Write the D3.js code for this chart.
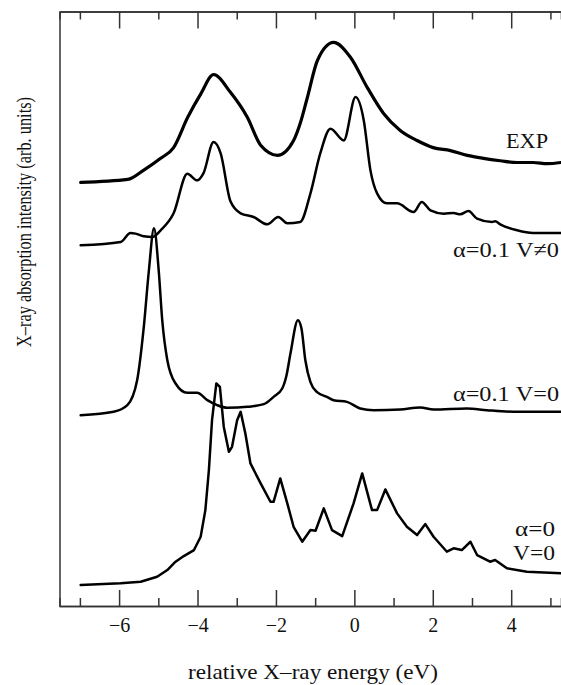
<!DOCTYPE html>
<html><head><meta charset="utf-8">
<script src="https://cdn.jsdelivr.net/npm/d3@7"></script>
<style>
body{margin:0;background:#fff;}
svg text{font-family:"Liberation Serif","Times New Roman",serif;fill:#111;}
</style></head>
<body><svg id="c" width="561" height="685"></svg>
<script>
// ---- data (energy in eV, intensity in arbitrary units, curves offset vertically) ----
const majorTicks = [-6, -4, -2, 0, 2, 4];
const minorTicks = [-7, -5, -3, -1, 1, 3, 5];
const seriesLabels = ["EXP", "α=0.1  V≠0", "α=0.1  V=0", "α=0", "V=0"];

const expE = [-6.98,-5.78,-5.38,-4.94,-4.61,-4.25,-3.92,-3.59,-3.16,-2.73,-2.39,-1.96,-1.55,-1.38,-1.2,-0.94,-0.53,-0.10,0.33,0.74,1.17,1.6,2.01,2.45,2.88,3.29,3.72,4.15,4.56,4.92,5.27];
const expI = [71.26,71.76,73.28,75.3,77.1,82.2,86.1,89.4,86.4,82.2,77.5,75.8,78.3,81.2,85.5,91.8,94.8,92.3,87.2,82.9,80.0,78.3,77.1,76.6,75.8,75.3,74.9,74.6,74.6,74.4,74.6];

const vE = [-6.98,-5.96,-5.71,-5.58,-5.37,-5.15,-4.94,-4.61,-4.26,-4.01,-3.85,-3.59,-3.41,-3.16,-2.90,-2.57,-2.22,-1.94,-1.71,-1.38,-1.12,-0.87,-0.61,-0.27,0.03,0.24,0.41,0.58,0.83,1.09,1.51,1.72,1.94,2.28,2.53,2.70,2.91,3.13,3.51,3.59,3.72,4.15,4.56,5.27];
const vI = [60.67,61.23,62.74,62.64,62.18,62.07,63.19,66.05,72.72,71.60,72.77,78.03,76.13,68.07,66.05,65.43,64.20,65.43,64.37,64.59,69.41,76.13,80.29,78.32,85.60,81.68,73.28,69.41,67.73,67.73,66.27,67.95,66.55,66.00,66.10,65.88,66.44,65.16,64.59,64.71,64.20,63.19,62.74,62.74];

const v0E = [-6.98,-6.14,-5.79,-5.54,-5.37,-5.24,-5.11,-4.99,-4.90,-4.77,-4.56,-4.26,-4.01,-3.75,-3.50,-3.24,-2.73,-2.31,-2.06,-1.84,-1.73,-1.63,-1.44,-1.35,-1.25,-1.12,-0.95,-0.70,-0.53,-0.19,0.15,0.49,1.17,1.68,2.02,2.87,3.38,4.15,5.27];
const v0I = [32.10,32.66,33.78,37.98,46.94,56.47,63.53,56.47,48.07,41.34,37.43,35.85,35.85,34.62,33.78,33.33,33.50,33.95,35.18,36.59,38.82,42.47,48.07,46.72,41.34,37.65,35.97,35.18,34.62,34.34,33.23,32.94,33.06,33.39,33.06,33.23,32.94,32.66,32.66];

const a0E = [-6.98,-5.96,-5.45,-5.03,-4.77,-4.56,-4.35,-4.09,-3.92,-3.80,-3.71,-3.63,-3.52,-3.43,-3.33,-3.20,-3.12,-2.99,-2.90,-2.78,-2.65,-2.39,-2.14,-2.06,-1.89,-1.71,-1.55,-1.33,-1.12,-0.99,-0.78,-0.57,-0.31,-0.02,0.20,0.45,0.58,0.79,1.09,1.34,1.60,1.81,2.02,2.36,2.53,2.74,2.96,3.13,3.46,3.59,3.89,4.40,5.27];
const a0I = [3.53,3.82,4.08,4.92,6.05,7.45,8.40,9.41,11.65,16.13,22.86,31.26,37.43,36.86,30.13,25.93,26.77,31.26,32.66,29.03,23.98,20.62,17.53,17.53,21.46,17.26,13.33,10.81,12.77,12.66,16.42,12.77,11.76,17.26,22.30,16.13,16.13,19.61,15.58,13.33,11.93,13.78,11.65,9.13,9.70,9.41,10.81,8.57,7.45,7.73,6.34,5.76,5.50];

// ---- layout ----
const svg = d3.select("#c");
const L = 59.5, R = 561, T = 11.5, B = 606;
const x = d3.scaleLinear().domain([-7.52, 5.27]).range([L, R]);
const y = d3.scaleLinear().domain([0, 100]).range([B, T]);

svg.append("clipPath").attr("id","clip").append("rect")
  .attr("x", L).attr("y", T).attr("width", R - L).attr("height", B - T);

const zip = (a, b) => a.map((d, i) => [d, b[i]]);
const series = [
  {pts: zip(expE, expI), w: 3.2, curve: d3.curveMonotoneX},
  {pts: zip(vE, vI), w: 2.5, curve: d3.curveMonotoneX},
  {pts: zip(v0E, v0I), w: 2.5, curve: d3.curveMonotoneX},
  {pts: zip(a0E, a0I), w: 2.5, curve: d3.curveLinear}
];
const g = svg.append("g").attr("clip-path", "url(#clip)");
series.forEach(s => {
  g.append("path").datum(s.pts)
    .attr("fill", "none").attr("stroke", "#000").attr("stroke-width", s.w)
    .attr("stroke-linejoin", "round").attr("stroke-linecap", "round")
    .attr("d", d3.line().x(d => x(d[0])).y(d => y(d[1])).curve(s.curve));
});

// ---- axes ----
const axCol = "#333";
function styleAxis(sel){
  sel.selectAll("path,line").attr("stroke", axCol).attr("stroke-width", 1.5);
}
svg.append("g").attr("transform", `translate(0,${B})`)
  .call(d3.axisBottom(x).tickValues(majorTicks).tickSizeInner(-16).tickSizeOuter(0)
        .tickPadding(12).tickFormat(d => d < 0 ? "\u2212" + Math.abs(d) : d))
  .call(styleAxis)
  .call(s => s.selectAll("text").attr("font-size", 20).attr("fill", "#111"));
svg.append("g").attr("transform", `translate(0,${B})`)
  .call(d3.axisBottom(x).tickValues(minorTicks).tickSize(-8).tickFormat(""))
  .call(styleAxis);
svg.append("g").attr("transform", `translate(0,${T})`)
  .call(d3.axisTop(x).tickValues(majorTicks).tickSizeInner(-17).tickSizeOuter(0).tickFormat(""))
  .call(styleAxis);
svg.append("g").attr("transform", `translate(0,${T})`)
  .call(d3.axisTop(x).tickValues(minorTicks).tickSize(-8).tickFormat(""))
  .call(styleAxis);
svg.append("g").attr("transform", `translate(${L},0)`)
  .call(d3.axisLeft(y).tickValues([]).tickSizeOuter(0))
  .call(styleAxis);

// ---- titles ----
svg.append("text").attr("x", 313).attr("y", 679).attr("text-anchor", "middle")
  .attr("font-size", 22).attr("textLength", 250).attr("lengthAdjust", "spacingAndGlyphs")
  .text("relative X\u2013ray energy (eV)");
svg.append("text").attr("transform", "translate(31,222) rotate(-90)").attr("text-anchor", "middle")
  .attr("font-size", 22).attr("textLength", 250).attr("lengthAdjust", "spacingAndGlyphs")
  .text("X\u2013ray absorption intensity (arb. units)");

// ---- curve labels ----
const labelPos = [
  {x: 548, y: 148, w: 42},
  {x: 559, y: 257, w: 106},
  {x: 559, y: 401, w: 106},
  {x: 555, y: 536, w: 40},
  {x: 555, y: 560, w: 42}
];
seriesLabels.forEach((t, i) => {
  const p = labelPos[i];
  svg.append("text").attr("x", p.x).attr("y", p.y).attr("text-anchor", "end")
    .attr("font-size", 22).attr("textLength", p.w).attr("lengthAdjust", "spacingAndGlyphs")
    .text(t);
});
</script></body></html>
